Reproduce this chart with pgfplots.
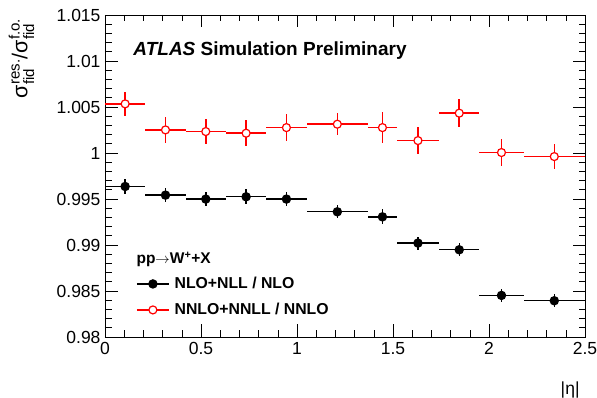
\documentclass[border=0pt]{standalone}
\usepackage{pgfplots}
\pgfplotsset{compat=1.18}
\usepackage{amsmath}
\usepackage{fontspec}
\setmainfont{Liberation Sans}

\pgfplotstableread{
x ex y ey
0.105 0.105 0.99636 0.0008
0.315 0.105 0.99542 0.0008
0.525 0.105 0.99499 0.0008
0.735 0.105 0.99524 0.0008
0.945 0.105 0.99499 0.0008
1.21 0.16 0.99361 0.0007
1.445 0.075 0.99306 0.0008
1.63 0.11 0.99021 0.0007
1.845 0.105 0.98948 0.0007
2.065 0.115 0.98452 0.0007
2.34 0.16 0.98394 0.0007
}\nlotable

\pgfplotstableread{
x ex y ey
0.105 0.105 1.00534 0.0013
0.315 0.105 1.00251 0.0014
0.525 0.105 1.00233 0.0014
0.735 0.105 1.00215 0.0014
0.945 0.105 1.00276 0.00145
1.21 0.16 1.00313 0.0012
1.445 0.075 1.00276 0.0017
1.63 0.11 1.00135 0.0015
1.845 0.105 1.00433 0.0015
2.065 0.115 1.00005 0.0015
2.34 0.16 0.99961 0.00135
}\nnlotable

\begin{document}
\begin{tikzpicture}
\path[use as bounding box] (-105pt,-61pt) rectangle (492pt,337pt);
\begin{axis}[
  at={(0pt,0pt)}, anchor=south west,
  scale only axis, width=480pt, height=322pt,
  xmin=0, xmax=2.5, ymin=0.98, ymax=1.015,
  xtick={0,0.5,1,1.5,2,2.5},
  ytick={0.98,0.985,0.99,0.995,1,1.005,1.01,1.015},
  yticklabels={0.98,0.985,0.99,0.995,1,1.005,1.01,1.015},
  minor x tick num=4, minor y tick num=4,
  scaled y ticks=false, scaled x ticks=false,
  tick align=inside, xtick pos=both, ytick pos=both,
  major tick length=12.5pt, minor tick length=6.5pt,
  tick style={black, line width=0.6pt},
  axis line style={line width=0.8pt},
  /pgf/number format/assume math mode=true,
  tick label style={font=\fontsize{17.5}{20}\selectfont},
  yticklabel style={xshift=-1pt},
  xticklabel style={yshift=-2pt},
  xlabel={|η|},
  xlabel style={at={(rel axis cs:0.996,-0.18)}, anchor=base east, font=\fontsize{17.5}{20}\selectfont},
  ylabel={σ$^{\text{res.}}_{\text{fid}}$/σ$^{\text{f.o.}}_{\text{fid}}$},
  ylabel style={at={(rel axis cs:-0.14,1)}, anchor=south east, font=\fontsize{21.5}{24}\selectfont},
  legend style={at={(axis cs:0.1615,0.98655)}, anchor=north west, draw=none, fill=none,
    font=\bfseries\fontsize{15.8}{18}\selectfont, row sep=12pt, column sep=5pt, inner sep=0pt,
    nodes={inner sep=0pt, text height=12pt, text depth=2pt}},
  legend cell align=left,
  legend image code/.code={\draw[mark repeat=2,mark phase=2,#1] plot coordinates {(0pt,0pt) (16pt,0pt) (32pt,0pt)};},
]
\addplot[black, line width=1.4pt, only marks, mark=*, mark size=4pt, forget plot,
  error bars/.cd, x dir=both, x explicit, y dir=both, y explicit, error mark=none,
  error bar style={line width=1.4pt, black}]
  table[x=x, y=y, x error=ex, y error=ey] {\nlotable};
\addplot[red, line width=1.4pt, only marks, mark=*, mark size=4pt, mark options={fill=white, line width=1.2pt}, forget plot,
  error bars/.cd, x dir=both, x explicit, y dir=both, y explicit, error mark=none,
  error bar style={line width=1.5pt, red}]
  table[x=x, y=y, x error=ex, y error=ey] {\nnlotable};
\addlegendimage{black, line width=1.4pt, mark=*, mark size=4pt}
\addlegendentry{NLO+NLL / NLO}
\addlegendimage{red, line width=1.4pt, mark=*, mark size=4pt, mark options={fill=white, line width=1.2pt}}
\addlegendentry{NNLO+NNLL / NNLO}
\node[anchor=base west, font=\fontsize{19}{22}\selectfont\bfseries] at (axis cs:0.13,1.01065) {\textit{ATLAS} Simulation Preliminary};
\node[anchor=base west, font=\fontsize{15.5}{18}\selectfont\bfseries] at (axis cs:0.146,0.98795) {pp$\rightarrow$W\textsuperscript{+}+X};
\end{axis}
\end{tikzpicture}
\end{document}
